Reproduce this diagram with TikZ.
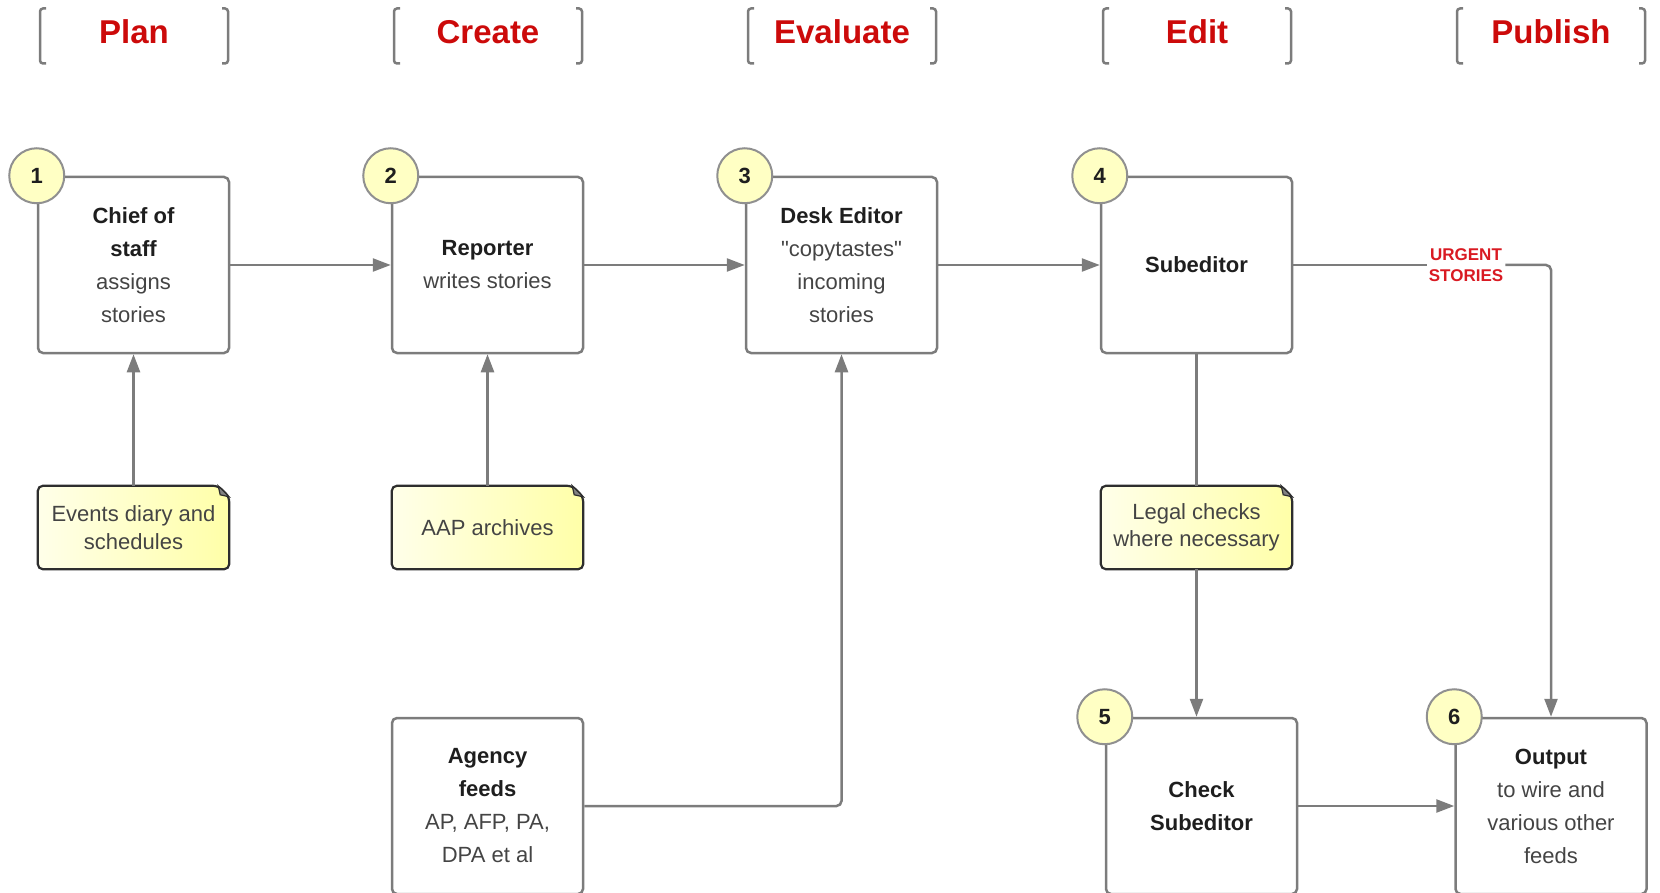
\documentclass[tikz,border=0pt]{standalone}
\usepackage{fontspec}
\setmainfont{Liberation Sans}[Ligatures=TeXOff]
\usetikzlibrary{arrows.meta,backgrounds}
\definecolor{lineg}{HTML}{7C7C7C}
\definecolor{txtg}{HTML}{444444}
\definecolor{txtb}{HTML}{1E1E1E}
\definecolor{hdr}{HTML}{CC0A0A}
\definecolor{urg}{HTML}{D91A22}
\definecolor{noteY}{HTML}{FFFFA8}
\definecolor{circY}{HTML}{FFFFC4}
\definecolor{noteline}{HTML}{2E2E2E}
\newcommand\boxtitle[1]{{\color{txtb}\bfseries #1}}
\tikzset{
  stepbox/.style={draw=lineg, line width=2.5pt, rounded corners=5pt, minimum width=191pt, minimum height=176pt, inner sep=0pt, align=center, text=txtg, font=\fontsize{22}{33}\selectfont},
  num/.style={circle, draw=lineg!85, line width=2pt, fill=circY, minimum size=55pt, inner sep=0pt, font=\bfseries\fontsize{22}{26}\selectfont, text=txtb},
  note/.style={minimum width=191pt, minimum height=83pt, inner sep=0pt, align=center, text=txtg, font=\fontsize{22}{27.5}\selectfont},
  conn/.style={draw=lineg, line width=2.5pt, -{Triangle[length=18pt,width=13pt]}},
  plainline/.style={draw=lineg, line width=2.5pt},
  hdrtext/.style={text=hdr, font=\bfseries\fontsize{33}{36}\selectfont, inner sep=0pt},
  bracket/.style={draw=lineg, line width=2.5pt, rounded corners=3pt},
  urgent/.style={text=urg, font=\bfseries\fontsize{17}{21}\selectfont, align=center, inner sep=2pt}
}
\newcommand\header[3]{%
  \node[hdrtext] (#1) at (#2,32) {#3};
  \draw[bracket] ([shift={(-88,-23.5)}]#1.center) -- ([shift={(-94,-23.5)}]#1.center) -- ([shift={(-94,31.5)}]#1.center) -- ([shift={(-88,31.5)}]#1.center);
  \draw[bracket] ([shift={(88,-23.5)}]#1.center) -- ([shift={(94,-23.5)}]#1.center) -- ([shift={(94,31.5)}]#1.center) -- ([shift={(88,31.5)}]#1.center);
}
\newcommand\notebox[4]{%
  \node[note] (#1) at (#2,#3) {#4};
  \begin{scope}[on background layer]
    \path[draw=noteline, line width=2.2pt, rounded corners=5pt, left color=noteY!25!white, right color=noteY]
      (#1.north west) -- ([xshift=-11pt]#1.north east) -- ([yshift=-11pt]#1.north east) -- (#1.south east) -- (#1.south west) -- cycle;
    \path[draw=noteline, line width=1.2pt, fill=noteline!60]
      ([xshift=-11pt]#1.north east) -- ([yshift=-11pt]#1.north east) -- ([xshift=-9pt,yshift=-9pt]#1.north east) -- cycle;
  \end{scope}
}
\begin{document}
\begin{tikzpicture}[x=1pt,y=-1pt]
\useasboundingbox (0,0) rectangle (1660,893);

% headers
\header{h1}{134}{Plan}
\header{h2}{488}{Create}
\header{h3}{842}{Evaluate}
\header{h4}{1197}{Edit}
\header{h5}{1551}{Publish}

% step boxes
\node[stepbox] (b1) at (133.5,265) {\boxtitle{Chief of}\\\boxtitle{staff}\\assigns\\stories};
\node[stepbox] (b2) at (487.5,265) {\boxtitle{Reporter}\\writes stories};
\node[stepbox] (b3) at (841.5,265) {\boxtitle{Desk Editor}\\"copytastes"\\incoming\\stories};
\node[stepbox] (b4) at (1196.5,265) {\boxtitle{Subeditor}};
\node[stepbox] (ag) at (487.5,806) {\boxtitle{Agency}\\\boxtitle{feeds}\\AP, AFP, PA,\\DPA et al};
\node[stepbox] (b5) at (1201.5,806) {\boxtitle{Check}\\\boxtitle{Subeditor}};
\node[stepbox] (b6) at (1551,806) {\boxtitle{Output}\\to wire and\\various other\\feeds};

% numbers
\node[num] (c1) at (b1.north west) {1};
\node[num] (c2) at (b2.north west) {2};
\node[num] (c3) at (b3.north west) {3};
\node[num] (c4) at (b4.north west) {4};
\node[num] (c5) at (b5.north west) {5};
\node[num] (c6) at (b6.north west) {6};

% notes
\notebox{n1}{133.5}{527.5}{Events diary and\\schedules}
\notebox{n2}{487.5}{527.5}{AAP archives}
\notebox{n3}{1196.5}{527.5}{Legal checks\\where necessary}

% urgent label
\node[urgent] (urg) at (1466,265) {URGENT\\STORIES};

% connectors
\draw[conn] (b1) -- (b2);
\draw[conn] (b2) -- (b3);
\draw[conn] (b3) -- (b4);
\draw[conn] (n1) -- (b1);
\draw[conn] (n2) -- (b2);
\draw[conn, rounded corners=5pt] (ag.east) -| (b3.south);
\draw[plainline] (b4) -- (n3);
\draw[conn] (n3.south) -- (n3.south |- b5.north);
\draw[conn] (b5) -- (b6);
\draw[plainline] (b4.east) -- (urg.west |- b4.east);
\draw[conn, rounded corners=5pt] (urg.east |- b4.east) -| (b6.north);
\end{tikzpicture}
\end{document}
